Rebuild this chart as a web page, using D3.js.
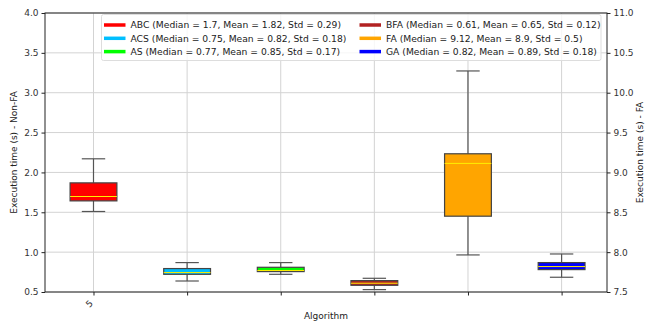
<!DOCTYPE html>
<html>
<head>
<meta charset="utf-8">
<script src="https://cdn.jsdelivr.net/npm/d3@7"></script>
<style>
body { margin: 0; background: #fff; }
text { font-family: "DejaVu Sans", sans-serif; }
</style>
</head>
<body>
<div id="chart"></div>
<script>
const W = 646, H = 323;
const margin = {left: 45, right: 39, top: 13, bottom: 31};

// data
const names = ["ABC", "ACS", "AS", "BFA", "FA", "GA"];
const colors = ["#ff0000", "#00bfff", "#00ff00", "#b22222", "#ffa500", "#0000ff"];
const axisSide = ["left", "left", "left", "left", "right", "left"];
const q1 = [1.643, 0.722, 0.756, 0.584, 8.451, 0.781];
const med = [1.698, 0.744, 0.77, 0.61, 9.113, 0.819];
const q3 = [1.869, 0.794, 0.81, 0.643, 9.234, 0.869];
const whiskLo = [1.51, 0.638, 0.722, 0.53, 7.965, 0.685];
const whiskHi = [2.171, 0.869, 0.869, 0.672, 10.273, 0.977];
const statMedian = ["1.7", "0.75", "0.77", "0.61", "9.12", "0.82"];
const statMean = ["1.82", "0.82", "0.85", "0.65", "8.9", "0.89"];
const statStd = ["0.29", "0.18", "0.17", "0.12", "0.5", "0.18"];
const leftTicks = [0.5, 1.0, 1.5, 2.0, 2.5, 3.0, 3.5, 4.0];
const rightTicks = [7.5, 8.0, 8.5, 9.0, 9.5, 10.0, 10.5, 11.0];

const svg = d3.select("#chart").append("svg")
    .attr("width", W)
    .attr("height", H);

const x = d3.scaleLinear().domain([0.482, 6.485]).range([margin.left, W - margin.right]);
const yL = d3.scaleLinear().domain([0.5, 4.0]).range([H - margin.bottom, margin.top]);
const yR = d3.scaleLinear().domain([7.5, 11.0]).range([H - margin.bottom, margin.top]);

// grid
svg.append("g").selectAll("line").data(leftTicks).join("line")
    .attr("x1", margin.left).attr("x2", W - margin.right)
    .attr("y1", d => yL(d)).attr("y2", d => yL(d))
    .attr("stroke", "#d3d3d3").attr("stroke-width", 1);
svg.append("g").selectAll("line").data(names).join("line")
    .attr("x1", (d, i) => x(i + 1)).attr("x2", (d, i) => x(i + 1))
    .attr("y1", margin.top).attr("y2", H - margin.bottom)
    .attr("stroke", "#d3d3d3").attr("stroke-width", 1);

// boxes
const bw = 0.5;
const boxes = svg.append("g").selectAll("g").data(names).join("g");
boxes.each(function(d, i) {
    const g = d3.select(this);
    const y = axisSide[i] === "right" ? yR : yL;
    const cx = x(i + 1);
    const half = (x(1 + bw / 2) - x(1));
    g.append("line")
        .attr("x1", cx).attr("x2", cx)
        .attr("y1", y(whiskLo[i])).attr("y2", y(q1[i]))
        .attr("stroke", "#555").attr("stroke-width", 1.2);
    g.append("line")
        .attr("x1", cx).attr("x2", cx)
        .attr("y1", y(q3[i])).attr("y2", y(whiskHi[i]))
        .attr("stroke", "#555").attr("stroke-width", 1.2);
    [whiskLo[i], whiskHi[i]].forEach(v => {
        g.append("line")
            .attr("x1", cx - half / 2).attr("x2", cx + half / 2)
            .attr("y1", y(v)).attr("y2", y(v))
            .attr("stroke", "#555").attr("stroke-width", 1.2);
    });
    g.append("rect")
        .attr("x", cx - half).attr("width", half * 2)
        .attr("y", y(q3[i])).attr("height", y(q1[i]) - y(q3[i]))
        .attr("fill", colors[i])
        .attr("stroke", "#444").attr("stroke-width", 1.2);
    g.append("line")
        .attr("x1", cx - half).attr("x2", cx + half)
        .attr("y1", y(med[i])).attr("y2", y(med[i]))
        .attr("stroke", "#ffee00").attr("stroke-width", 1);
});

// frame
svg.append("rect")
    .attr("x", margin.left).attr("y", margin.top)
    .attr("width", W - margin.left - margin.right)
    .attr("height", H - margin.top - margin.bottom)
    .attr("fill", "none").attr("stroke", "#222").attr("stroke-width", 1);

// axes
const axL = svg.append("g")
    .attr("transform", `translate(${margin.left},0)`)
    .call(d3.axisLeft(yL).tickValues(leftTicks).tickFormat(d3.format(".1f")).tickSize(3.5).tickPadding(3));
const axR = svg.append("g")
    .attr("transform", `translate(${W - margin.right},0)`)
    .call(d3.axisRight(yR).tickValues(rightTicks).tickFormat(d3.format(".1f")).tickSize(3.5).tickPadding(3));
const axB = svg.append("g")
    .attr("transform", `translate(0,${H - margin.bottom})`)
    .call(d3.axisBottom(x).tickValues([1, 2, 3, 4, 5, 6]).tickFormat("").tickSize(3.5));
[axL, axR, axB].forEach(a => {
    a.select(".domain").remove();
    a.selectAll(".tick line").attr("stroke", "#222");
    a.selectAll(".tick text").attr("fill", "#333").style("font-size", "9px")
        .style("font-family", "DejaVu Sans");
});

svg.append("text")
    .attr("transform", `translate(${x(1) - 2},${H - margin.bottom + 14}) rotate(-45)`)
    .attr("text-anchor", "middle")
    .attr("fill", "#333").style("font-size", "9px")
    .text("5");

// axis labels
svg.append("text")
    .attr("x", (margin.left + W - margin.right) / 2).attr("y", H - 4)
    .attr("text-anchor", "middle").style("font-size", "9px").attr("fill", "#222")
    .text("Algorithm");
svg.append("text")
    .attr("transform", `translate(17,${(margin.top + H - margin.bottom) / 2}) rotate(-90)`)
    .attr("text-anchor", "middle").style("font-size", "9px").attr("fill", "#222")
    .text("Execution time (s) - Non-FA");
svg.append("text")
    .attr("transform", `translate(643,${(margin.top + H - margin.bottom) / 2}) rotate(-90)`)
    .attr("text-anchor", "middle").style("font-size", "9px").attr("fill", "#222")
    .text("Execution time (s) - FA");

// legend
const leg = svg.append("g");
leg.append("rect")
    .attr("x", 101.5).attr("y", 14.5).attr("width", 499.5).attr("height", 46)
    .attr("rx", 2).attr("fill", "rgba(255,255,255,0.8)").attr("stroke", "#ddd");
const order = [0, 1, 2, 3, 4, 5];
order.forEach(i => {
    const col = Math.floor(i / 3), row = i % 3;
    const lx = col === 0 ? 104 : 359.5;
    const ly = 25 + row * 13.3;
    leg.append("line")
        .attr("x1", lx).attr("x2", lx + 21.5)
        .attr("y1", ly).attr("y2", ly)
        .attr("stroke", colors[i]).attr("stroke-width", 3.5);
    leg.append("text")
        .attr("x", lx + 26.5).attr("y", ly + 3.3)
        .style("font-size", "9.2px").attr("fill", "#222")
        .text(`${names[i]} (Median = ${statMedian[i]}, Mean = ${statMean[i]}, Std = ${statStd[i]})`);
});
</script>
</body>
</html>
